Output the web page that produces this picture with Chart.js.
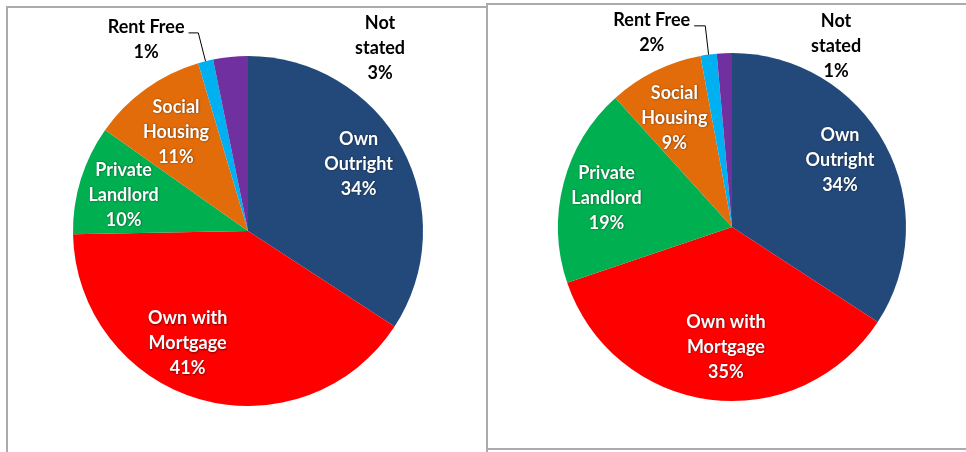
<!DOCTYPE html>
<html>
<head>
<meta charset="utf-8">
<script src="https://cdn.jsdelivr.net/npm/chart.js@4/dist/chart.umd.min.js"></script>
<style>
  html, body { margin: 0; padding: 0; background: #ffffff; width: 966px; height: 452px; overflow: hidden; }
  .panel { position: absolute; border: 2px solid #ababab; box-sizing: border-box; background: transparent; }
  .wrap { position: absolute; width: 470px; height: 470px; }
</style>
</head>
<body>
<div class="panel" style="left:6px; top:6px; width:482px; height:470px;"></div>
<div class="panel" style="left:486px; top:3px; width:500px; height:447px; background:#fff;"></div>
<div class="wrap" style="left:13px; top:-4px;"><canvas id="c1"></canvas></div>
<div class="wrap" style="left:497px; top:-8px;"><canvas id="c2"></canvas></div>
<script>
// ---- data ----
const categories = [["Own", "Outright"], ["Own with", "Mortgage"], ["Private", "Landlord"], ["Social", "Housing"], ["Rent Free"], ["Not", "stated"]];
const leftValues  = [34.2, 40.5, 10.1, 10.6, 1.4, 3.2];
const leftPct     = ["34%", "41%", "10%", "11%", "1%", "3%"];
const rightValues = [34.2, 35.6, 18.5, 8.8, 1.5, 1.4];
const rightPct    = ["34%", "35%", "19%", "9%", "2%", "1%"];

// ---- style ----
const colors = ["#23497b", "#ff0000", "#00b050", "#e36c0a", "#00b0f0", "#7030a0"];
const insideLabel = [true, true, true, true, false, false];
const FONT = "bold 18px Lato, 'Open Sans', sans-serif";
const LINE_H = 25;

// label anchors in polar form: [angle from 12 o'clock clockwise (deg), distance in radii]
const leftPlace  = [[58.7, 0.74], [208.2, 0.73], [286.1, 0.74], [324, 0.70], [332, 1.24], [35.8, 1.29]];
const rightPlace = [[58.2, 0.73], [182.9, 0.69], [283, 0.74], [332.2, 0.71], [337.6, 1.21], [29.9, 1.20]];
const leaderElbow = { left: 1.17, right: 1.14 };

function labelPlugin(pct, place, elbow) {
  return {
    id: 'pieLabels',
    afterDatasetsDraw(chart) {
      const ctx = chart.ctx;
      const meta = chart.getDatasetMeta(0);
      const arc0 = meta.data[0];
      const cx = arc0.x, cy = arc0.y, r = arc0.outerRadius;
      ctx.save();
      ctx.font = FONT;
      ctx.textAlign = 'center';
      ctx.textBaseline = 'middle';
      meta.data.forEach((arc, i) => {
        const lines = categories[i].concat([pct[i]]);
        const a = place[i][0] * Math.PI / 180;
        const d = place[i][1] * r;
        const lx = cx + Math.sin(a) * d;
        const ly = cy - Math.cos(a) * d;
        ctx.save();
        if (insideLabel[i]) {
          ctx.fillStyle = '#ffffff';
          ctx.shadowColor = 'rgba(0,0,0,0.55)';
          ctx.shadowBlur = 2;
          ctx.shadowOffsetX = 0.5;
          ctx.shadowOffsetY = 0.5;
        } else {
          ctx.fillStyle = '#000000';
        }
        lines.forEach((t, k) => {
          ctx.fillText(t, lx, ly + (k - (lines.length - 1) / 2) * LINE_H);
        });
        ctx.restore();
        // leader line for Rent Free
        if (i === 4) {
          const mid = (arc.startAngle + arc.endAngle) / 2;
          const px = cx + Math.cos(mid) * r, py = cy + Math.sin(mid) * r;
          const ex = cx + Math.cos(mid) * r * elbow, ey = cy + Math.sin(mid) * r * elbow;
          const firstY = ly - (lines.length - 1) / 2 * LINE_H;
          const tw = ctx.measureText(lines[0]).width;
          const endX = lx + tw / 2 + 4;
          ctx.strokeStyle = '#000000';
          ctx.lineWidth = 1;
          ctx.beginPath();
          ctx.moveTo(px, py);
          ctx.lineTo(ex, firstY + 6);
          ctx.lineTo(endX, firstY + 6);
          ctx.stroke();
        }
      });
      ctx.restore();
    }
  };
}

function makePie(id, values, pct, place, elbow, pad) {
  return new Chart(document.getElementById(id), {
    type: 'pie',
    data: {
      labels: categories,
      datasets: [{ data: values, backgroundColor: colors, borderWidth: 0, hoverOffset: 0 }]
    },
    options: {
      responsive: true,
      maintainAspectRatio: false,
      animation: false,
      events: [],
      layout: { padding: pad },
      plugins: { legend: { display: false }, tooltip: { enabled: false } }
    },
    plugins: [labelPlugin(pct, place, elbow)]
  });
}

makePie('c1', leftValues, leftPct, leftPlace, leaderElbow.left, 60);
makePie('c2', rightValues, rightPct, rightPlace, leaderElbow.right, 61);
</script>
</body>
</html>
